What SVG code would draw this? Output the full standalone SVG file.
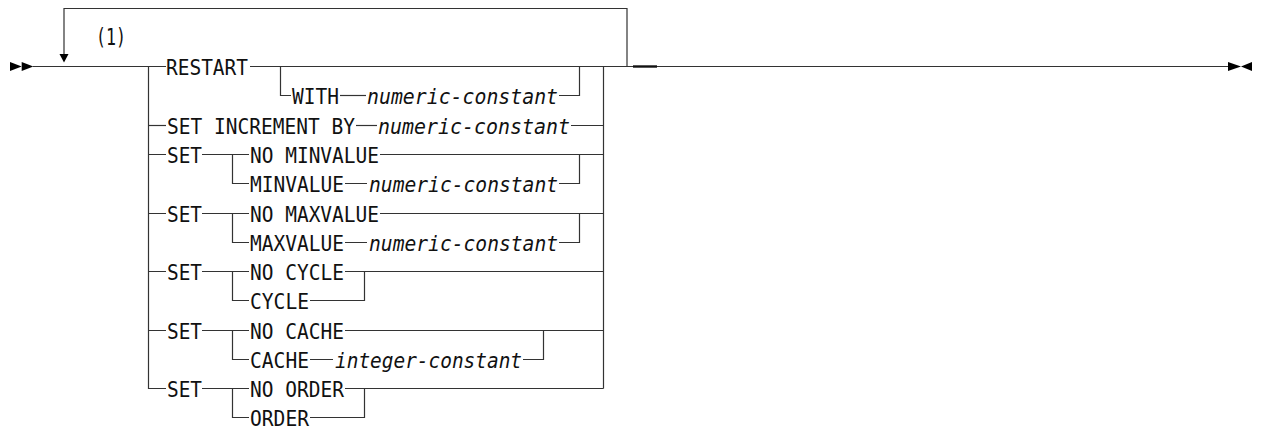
<svg xmlns="http://www.w3.org/2000/svg" width="1268" height="428" viewBox="0 0 1268 428">
<style>
.k{font-family:"DejaVu Sans Mono","Liberation Mono",monospace;font-size:22px;fill:#111}
.v{font-family:"DejaVu Sans Mono","Liberation Mono",monospace;font-size:22px;font-style:italic;fill:#111}
.n{font-family:"DejaVu Sans Mono","Liberation Mono",monospace;font-size:23px;fill:#111}
.c path{fill:none;stroke:#333;stroke-width:1.2}
.ah{fill:#000}
</style>
<rect width="1268" height="428" fill="#fff"/>
<g id="connectors" class="c">
<path d="M33 66.5H166"/>
<path d="M250 66.5H1228"/>
<path d="M633 66.5H657" style="stroke:#111;stroke-width:2.4"/>
<path d="M627 66.5V8.5H64V55"/>
<path d="M148.5 66.5V388.5H166"/>
<path d="M603.5 66.5V388.5"/>
<path d="M280.5 66.5V95.5H291"/>
<path d="M340 95.5H366"/>
<path d="M559 95.5H579.5V66.5"/>
<path d="M148.5 125.5H166"/>
<path d="M356 125.5H377"/>
<path d="M571 125.5H603.5"/>
<path d="M148.5 154.5H166M202 154.5H249M232.5 154.5V183.5H249M380 154.5H603.5"/>
<path d="M345 183.5H367M559 183.5H579.5V154.5"/>
<path d="M148.5 213.5H166M202 213.5H249M232.5 213.5V242.5H249M380 213.5H603.5"/>
<path d="M345 242.5H367M559 242.5H579.5V213.5"/>
<path d="M148.5 271.5H166M202 271.5H249M232.5 271.5V300.5H249M345 271.5H603.5"/>
<path d="M310 300.5H364.5V271.5"/>
<path d="M148.5 330.5H166M202 330.5H249M232.5 330.5V359.5H249M345 330.5H603.5"/>
<path d="M310 359.5H333M523 359.5H543.5V330.5"/>
<path d="M202 388.5H249M232.5 388.5V417.5H249M345 388.5H603.5"/>
<path d="M310 417.5H364.5V388.5"/>
</g>
<g id="start">
<polygon class="ah" points="10,62 21.7,66.5 10,71"/>
<polygon class="ah" points="21.7,62 33.3,66.5 21.7,71"/>
</g>
<g id="end">
<polygon class="ah" points="1228,62 1241,66.5 1228,71"/>
<polygon class="ah" points="1252,62 1241,66.5 1252,71"/>
</g>
<g id="repeat-arrow">
<polygon class="ah" points="59.5,54 68.5,54 64,62.5"/>
</g>
<g id="note"><text class="n" x="96" y="44.5" textLength="30" lengthAdjust="spacingAndGlyphs">(1)</text></g>
<g id="restart"><text class="k" x="166" y="74.5" textLength="82" lengthAdjust="spacingAndGlyphs">RESTART</text></g>
<g id="with"><text class="k" x="292" y="103.5" textLength="47" lengthAdjust="spacingAndGlyphs">WITH</text><text class="v" x="367" y="103.5" textLength="191" lengthAdjust="spacingAndGlyphs">numeric-constant</text></g>
<g id="set-increment"><text class="k" x="167" y="133.5" textLength="188" lengthAdjust="spacingAndGlyphs">SET INCREMENT BY</text><text class="v" x="378" y="133.5" textLength="192" lengthAdjust="spacingAndGlyphs">numeric-constant</text></g>
<g id="set-min"><text class="k" x="167" y="162.5" textLength="35" lengthAdjust="spacingAndGlyphs">SET</text><text class="k" x="250" y="162.5" textLength="129" lengthAdjust="spacingAndGlyphs">NO MINVALUE</text><text class="k" x="250" y="191.5" textLength="94" lengthAdjust="spacingAndGlyphs">MINVALUE</text><text class="v" x="369" y="191.5" textLength="189" lengthAdjust="spacingAndGlyphs">numeric-constant</text></g>
<g id="set-max"><text class="k" x="167" y="221.5" textLength="35" lengthAdjust="spacingAndGlyphs">SET</text><text class="k" x="250" y="221.5" textLength="129" lengthAdjust="spacingAndGlyphs">NO MAXVALUE</text><text class="k" x="250" y="250.5" textLength="94" lengthAdjust="spacingAndGlyphs">MAXVALUE</text><text class="v" x="369" y="250.5" textLength="189" lengthAdjust="spacingAndGlyphs">numeric-constant</text></g>
<g id="set-cycle"><text class="k" x="167" y="279.5" textLength="35" lengthAdjust="spacingAndGlyphs">SET</text><text class="k" x="250" y="279.5" textLength="94" lengthAdjust="spacingAndGlyphs">NO CYCLE</text><text class="k" x="250" y="308.5" textLength="59" lengthAdjust="spacingAndGlyphs">CYCLE</text></g>
<g id="set-cache"><text class="k" x="167" y="338.5" textLength="35" lengthAdjust="spacingAndGlyphs">SET</text><text class="k" x="250" y="338.5" textLength="94" lengthAdjust="spacingAndGlyphs">NO CACHE</text><text class="k" x="250" y="367.5" textLength="59" lengthAdjust="spacingAndGlyphs">CACHE</text><text class="v" x="335" y="367.5" textLength="187" lengthAdjust="spacingAndGlyphs">integer-constant</text></g>
<g id="set-order"><text class="k" x="167" y="396.5" textLength="35" lengthAdjust="spacingAndGlyphs">SET</text><text class="k" x="250" y="396.5" textLength="94" lengthAdjust="spacingAndGlyphs">NO ORDER</text><text class="k" x="250" y="425.5" textLength="59" lengthAdjust="spacingAndGlyphs">ORDER</text></g>
</svg>
